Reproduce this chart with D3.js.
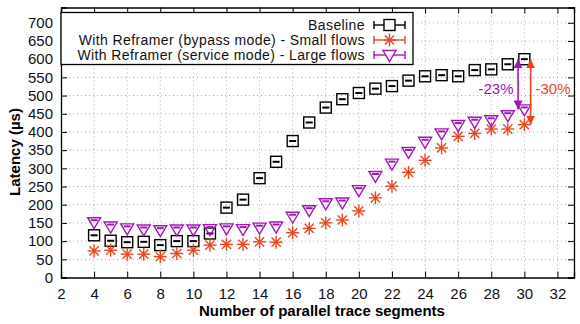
<!DOCTYPE html>
<html lang="en">
<head>
<meta charset="UTF-8">
<title>Latency vs parallel trace segments</title>
<script src="https://d3js.org/d3.v7.min.js"></script>
<style>
    body { margin: 0; background: #fff; }
    svg text { font-family: "Liberation Sans", Arial, sans-serif; }
</style>
</head>
<body>
<div id="chart"></div>
<script>
    // data
    const segments = [4,5,6,7,8,9,10,11,12,13,14,15,16,17,18,19,20,21,22,23,24,25,26,27,28,29,30];
    const baseline = [116,101,97,98,89,100,100,121,192,214,273,318,375,426,467,490,507,519,526,541,553,556,553,570,572,586,600];
    const bypassSmall = [73,75,64,64,57,66,75,89,91,91,98,97,123,135,150,158,183,219,251,289,322,356,388,396,408,408,420];
    const serviceLarge = [152,140,135,132,130,132,132,133,135,133,137,140,167,185,204,206,240,279,313,345,373,396,419,428,432,446,462];
    const xTicks = d3.range(2, 33, 2);
    const yTicks = d3.range(0, 701, 50);
    const seriesNames = ["Baseline", "With Reframer (bypass mode) - Small flows", "With Reframer (service mode) - Large flows"];

    const width = 580, height = 324;
    const margin = { left: 61, right: 6, top: 7.5, bottom: 46.5 };
    const black = "#000", orange = "#e8471e", purple = "#a516b8";
    const fs = 15;

    const svg = d3.select("#chart").append("svg")
        .attr("width", width)
        .attr("height", height);

    const x = d3.scaleLinear().domain([2, 33]).range([margin.left, width - margin.right]);
    const y = d3.scaleLinear().domain([0, 742]).range([height - margin.bottom, margin.top]);

    const x0 = x.range()[0], x1 = x.range()[1];
    const y0 = y.range()[0], y1 = y.range()[1];

    // dotted grid
    const grid = svg.append("g").attr("stroke", "#aaa").attr("stroke-width", 1).attr("stroke-dasharray", "1,3");
    grid.selectAll(".gx").data(xTicks.slice(1)).enter().append("line")
        .attr("x1", d => x(d)).attr("x2", d => x(d)).attr("y1", y0).attr("y2", y1);
    grid.selectAll(".gy").data(yTicks.slice(1)).enter().append("line")
        .attr("x1", x0).attr("x2", x1).attr("y1", d => y(d)).attr("y2", d => y(d));

    // axes (mirrored ticks on top/right)
    const tick = 6;
    svg.append("g").attr("transform", `translate(0,${y0})`)
        .call(d3.axisBottom(x).tickValues(xTicks).tickSize(-tick).tickPadding(11).tickFormat(d3.format("d")));
    svg.append("g").attr("transform", `translate(0,${y1})`)
        .call(d3.axisTop(x).tickValues(xTicks).tickSize(-tick).tickFormat(""));
    svg.append("g").attr("transform", `translate(${x0},0)`)
        .call(d3.axisLeft(y).tickValues(yTicks).tickSize(-tick).tickPadding(8).tickFormat(d3.format("d")));
    svg.append("g").attr("transform", `translate(${x1},0)`)
        .call(d3.axisRight(y).tickValues(yTicks).tickSize(-tick).tickFormat(""));
    svg.selectAll(".domain").attr("stroke", "#000").attr("stroke-width", 1.3);
    svg.selectAll(".tick line").attr("stroke", "#000");
    svg.selectAll(".tick text").attr("font-size", fs).attr("fill", "#111")
        .style("font-family", "'Liberation Sans', Arial, sans-serif");

    // axis titles
    svg.append("text").attr("x", 322).attr("y", 316)
        .attr("text-anchor", "middle").attr("font-size", fs).attr("font-weight", "bold")
        .text("Number of parallel trace segments");
    svg.append("text").attr("transform", `translate(20,152) rotate(-90)`)
        .attr("text-anchor", "middle").attr("font-size", fs).attr("font-weight", "bold")
        .text("Latency (µs)");

    // marker drawers
    function square(g, color, fill) {
        g.append("rect").attr("x", -5.5).attr("y", -5.5).attr("width", 11).attr("height", 11)
            .attr("fill", fill || "none").attr("stroke", color).attr("stroke-width", 1.4);
    }
    function star(g, color) {
        const r = 6.5;
        for (let a = 0; a < 180; a += 45) {
            const rad = a * Math.PI / 180;
            g.append("line")
                .attr("x1", -r * Math.cos(rad)).attr("y1", -r * Math.sin(rad))
                .attr("x2", r * Math.cos(rad)).attr("y2", r * Math.sin(rad))
                .attr("stroke", color).attr("stroke-width", 1.4);
        }
    }
    function triangle(g, color, fill) {
        g.append("path").attr("d", "M-6.5,-4.5 L6.5,-4.5 L0,6.5 Z")
            .attr("fill", fill || "none").attr("stroke", color).attr("stroke-width", 1.4);
    }
    function errDash(g, color, dy) {
        g.append("line").attr("x1", -3.5).attr("x2", 3.5).attr("y1", dy).attr("y2", dy)
            .attr("stroke", color).attr("stroke-width", 2);
    }

    const series = [
        { name: seriesNames[0], values: baseline, color: black, mark: square, dash: 0 },
        { name: seriesNames[1], values: bypassSmall, color: orange, mark: star, dash: null },
        { name: seriesNames[2], values: serviceLarge, color: purple, mark: triangle, dash: -2 }
    ];

    series.forEach(s => {
        const pts = svg.append("g").selectAll("g").data(segments).enter().append("g")
            .attr("transform", (d, i) => `translate(${x(d)},${y(s.values[i])})`);
        pts.each(function () {
            const g = d3.select(this);
            s.mark(g, s.color);
            if (s.dash !== null) errDash(g, s.color, s.dash);
        });
    });

    // arrows with reductions
    const defs = svg.append("defs");
    [["ap", purple], ["ao", orange]].forEach(([id, c]) => {
        defs.append("marker").attr("id", id).attr("viewBox", "0 0 10 10")
            .attr("refX", 10).attr("refY", 5).attr("markerWidth", 9).attr("markerHeight", 9)
            .attr("markerUnits", "userSpaceOnUse").attr("orient", "auto-start-reverse")
            .append("path").attr("d", "M0,0 L10,5 L0,10 Z").attr("fill", c);
    });
    const last = segments.length - 1;
    const arrows = [
        { xv: 29.62, from: baseline[last], to: serviceLarge[last], color: purple, id: "ap", label: "-23%", lx: 496 },
        { xv: 30.38, from: baseline[last], to: bypassSmall[last], color: orange, id: "ao", label: "-30%", lx: 553 }
    ];
    arrows.forEach(a => {
        svg.append("line").attr("x1", x(a.xv)).attr("x2", x(a.xv))
            .attr("y1", y(a.from)).attr("y2", y(a.to))
            .attr("stroke", a.color).attr("stroke-width", 1.6)
            .attr("marker-start", `url(#${a.id})`).attr("marker-end", `url(#${a.id})`);
        svg.append("text").attr("x", a.lx).attr("y", 94).attr("text-anchor", "middle")
            .attr("font-size", fs).attr("fill", a.color).text(a.label);
    });

    // legend
    const lg = svg.append("g");
    lg.append("rect").attr("x", x0).attr("y", 12.5).attr("width", 352).attr("height", 52)
        .attr("fill", "#fff").attr("stroke", "#000").attr("stroke-width", 1.3);
    series.forEach((s, i) => {
        const ly = 25 + i * 15;
        lg.append("text").attr("x", 365).attr("y", ly + 5).attr("text-anchor", "end")
            .attr("font-size", 14).attr("letter-spacing", 0.4).attr("fill", "#111").text(s.name);
        lg.append("line").attr("x1", 374).attr("x2", 405).attr("y1", ly).attr("y2", ly)
            .attr("stroke", s.color).attr("stroke-width", 1.4);
        [374, 405].forEach(cx => lg.append("line").attr("x1", cx).attr("x2", cx)
            .attr("y1", ly - 4).attr("y2", ly + 4).attr("stroke", s.color).attr("stroke-width", 1.4));
        const m = lg.append("g").attr("transform", `translate(389.5,${ly})`);
        s.mark(m, s.color, "#fff");
    });
</script>
</body>
</html>
